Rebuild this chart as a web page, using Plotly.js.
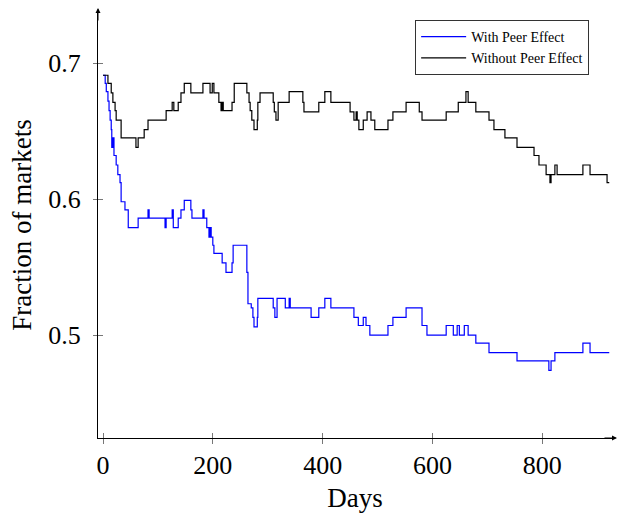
<!DOCTYPE html>
<html>
<head>
<meta charset="utf-8">
<script src="https://cdn.plot.ly/plotly-3.0.1.min.js"></script>
<style>html,body{margin:0;padding:0;background:#fff;}#chart{width:623px;height:516px;}</style>
</head>
<body>
<div id="chart"></div>
<script>
// Series: With Peer Effect (step changes: day, fraction)
const peerDays = [0, 4, 6, 9, 11, 13, 15, 16, 18, 20, 24, 27, 31, 33, 40, 46, 64, 82, 84, 113, 115, 126, 128, 137, 142, 148, 160, 162, 182, 184, 189, 193, 195, 197, 200, 202, 217, 224, 235, 237, 262, 264, 270, 273, 275, 281, 282, 310, 313, 317, 332, 339, 341, 379, 393, 404, 415, 457, 465, 474, 479, 486, 519, 528, 552, 581, 590, 625, 638, 645, 649, 658, 665, 679, 703, 754, 812, 816, 823, 874, 887, 922];
const peerVals = [0.691, 0.685, 0.679, 0.672, 0.665, 0.658, 0.651, 0.638, 0.645, 0.632, 0.625, 0.618, 0.612, 0.598, 0.592, 0.579, 0.586, 0.592, 0.586, 0.579, 0.586, 0.592, 0.579, 0.586, 0.592, 0.599, 0.592, 0.586, 0.592, 0.586, 0.579, 0.572, 0.579, 0.572, 0.566, 0.560, 0.553, 0.546, 0.553, 0.566, 0.546, 0.523, 0.520, 0.513, 0.506, 0.513, 0.527, 0.520, 0.513, 0.527, 0.520, 0.527, 0.520, 0.513, 0.520, 0.527, 0.520, 0.513, 0.507, 0.513, 0.507, 0.500, 0.507, 0.513, 0.520, 0.507, 0.500, 0.507, 0.500, 0.507, 0.500, 0.507, 0.500, 0.494, 0.487, 0.481, 0.474, 0.481, 0.487, 0.494, 0.487, 0.487];

// Series: Without Peer Effect
const noPeerDays = [0, 9, 15, 18, 22, 24, 33, 60, 64, 75, 82, 115, 126, 129, 137, 142, 148, 160, 182, 195, 199, 202, 211, 215, 217, 219, 235, 239, 262, 266, 268, 271, 275, 281, 282, 286, 310, 312, 315, 319, 339, 364, 366, 393, 404, 415, 450, 457, 461, 463, 466, 474, 481, 488, 495, 519, 528, 552, 576, 581, 625, 647, 661, 665, 679, 703, 712, 732, 754, 785, 794, 807, 814, 816, 823, 827, 874, 887, 918, 922];
const noPeerVals = [0.691, 0.685, 0.678, 0.671, 0.665, 0.658, 0.645, 0.638, 0.645, 0.651, 0.658, 0.665, 0.671, 0.665, 0.671, 0.678, 0.685, 0.678, 0.685, 0.678, 0.685, 0.678, 0.671, 0.665, 0.671, 0.665, 0.671, 0.685, 0.678, 0.671, 0.665, 0.658, 0.651, 0.658, 0.671, 0.678, 0.671, 0.664, 0.658, 0.671, 0.679, 0.671, 0.664, 0.671, 0.679, 0.671, 0.664, 0.658, 0.664, 0.658, 0.651, 0.658, 0.664, 0.658, 0.651, 0.658, 0.664, 0.671, 0.664, 0.658, 0.664, 0.671, 0.679, 0.671, 0.664, 0.658, 0.651, 0.645, 0.638, 0.632, 0.625, 0.618, 0.612, 0.618, 0.625, 0.618, 0.625, 0.618, 0.612, 0.612];

const seriesNames = ["With Peer Effect", "Without Peer Effect"];
const xTicks = [0, 200, 400, 600, 800];
const yTicks = [0.5, 0.6, 0.7];
const yTickLabels = ["0.5", "0.6", "0.7"];

const serif = "Liberation Serif, Times New Roman, serif";

const traces = [
  {x: peerDays, y: peerVals, name: seriesNames[0], type: "scatter", mode: "lines",
   line: {color: "#0000ff", width: 1.2, shape: "hv"}},
  {x: noPeerDays, y: noPeerVals, name: seriesNames[1], type: "scatter", mode: "lines",
   line: {color: "#000000", width: 1.2, shape: "hv"}},
  {x: [], y: [], xaxis: "x2", yaxis: "y2", showlegend: false, hoverinfo: "skip"}
];

const xRange = [-9.1, 927];
const yRange = [0.4243, 0.7375];

const layout = {
  width: 623, height: 516,
  margin: {l: 98, r: 11, t: 12, b: 78},
  paper_bgcolor: "#fff", plot_bgcolor: "#fff",
  showlegend: true,
  font: {family: serif, color: "#000"},
  xaxis: {
    range: xRange, tickvals: xTicks, ticktext: xTicks.map(String),
    showgrid: false, zeroline: false, showline: true, linecolor: "#000", linewidth: 1,
    ticks: "outside", ticklen: 5, tickcolor: "#555", tickwidth: 0.8,
    tickfont: {family: serif, size: 26, color: "#000"},
    ticklabelstandoff: -1,
    title: {text: "Days", font: {family: serif, size: 27, color: "#000"}, standoff: 8}
  },
  yaxis: {
    range: yRange, tickvals: yTicks, ticktext: yTickLabels,
    showgrid: false, zeroline: false, showline: true, linecolor: "#000", linewidth: 1,
    ticks: "outside", ticklen: 4, tickcolor: "#555", tickwidth: 0.8,
    tickfont: {family: serif, size: 26, color: "#000"},
    ticklabelstandoff: 7,
    title: {text: "Fraction of markets", font: {family: serif, size: 27, color: "#000"}, standoff: 8}
  },
  xaxis2: {range: xRange, overlaying: "x", anchor: "y2", tickvals: xTicks, showticklabels: false,
    ticks: "inside", ticklen: 5, tickcolor: "#555", tickwidth: 0.8, showgrid: false, zeroline: false, showline: false},
  yaxis2: {range: yRange, overlaying: "y", anchor: "x2", tickvals: yTicks, showticklabels: false,
    ticks: "inside", ticklen: 5, tickcolor: "#555", tickwidth: 0.8, showgrid: false, zeroline: false, showline: false},
  legend: {
    x: 0.617, y: 0.981, xanchor: "left", yanchor: "top",
    bgcolor: "#fff", bordercolor: "#333", borderwidth: 1,
    font: {family: serif, size: 14, color: "#000"},
    itemwidth: 45, tracegroupgap: 0
  },
  annotations: [
    {xref: "paper", yref: "paper", x: 1.0097, y: 0, axref: "pixel", ayref: "pixel", ax: -14, ay: 0,
     showarrow: true, arrowhead: 2, arrowsize: 1, arrowwidth: 1, arrowcolor: "#000", text: "", standoff: 0},
    {xref: "paper", yref: "paper", x: 0, y: 1.0094, axref: "pixel", ayref: "pixel", ax: 0, ay: 14,
     showarrow: true, arrowhead: 2, arrowsize: 1, arrowwidth: 1, arrowcolor: "#000", text: "", standoff: 0}
  ]
};

Plotly.newPlot("chart", traces, layout, {displayModeBar: false, staticPlot: true});
</script>
</body>
</html>
